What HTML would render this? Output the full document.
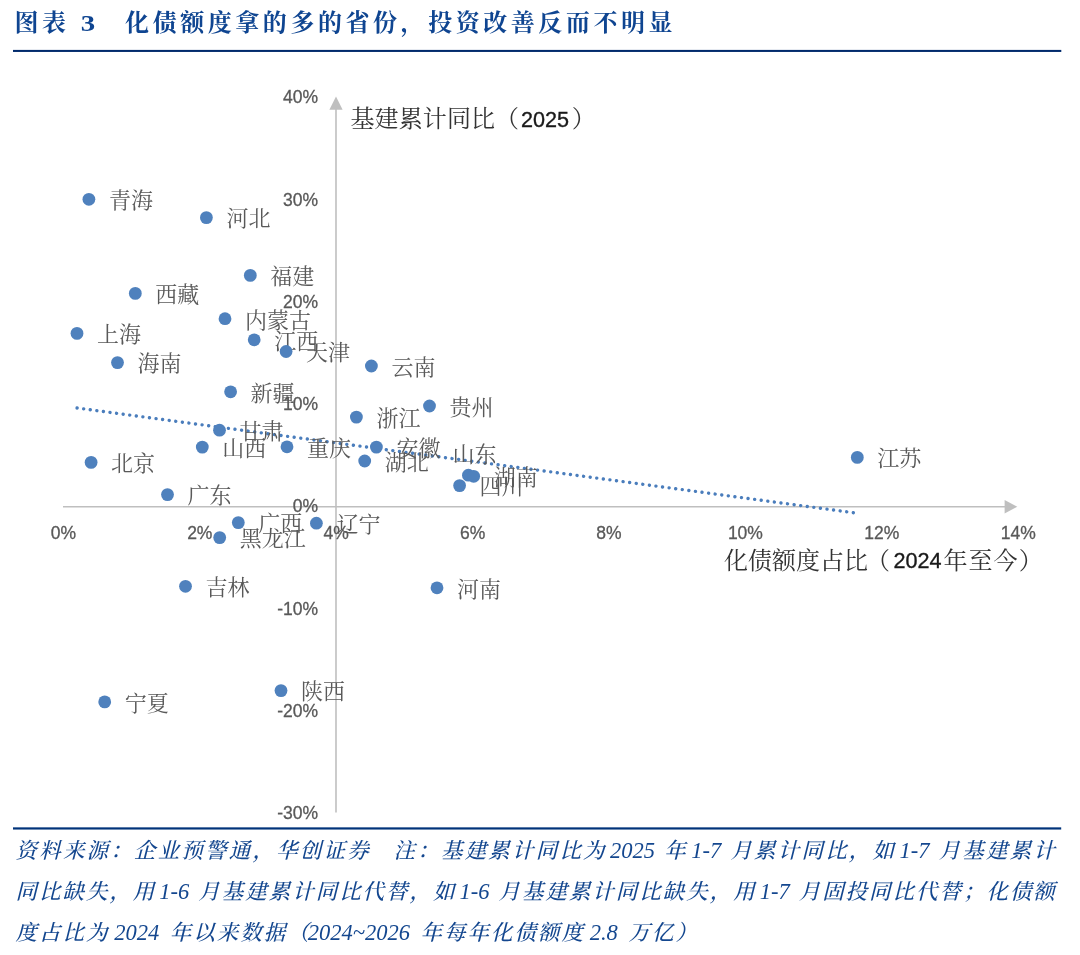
<!DOCTYPE html>
<html lang="zh-CN">
<head>
<meta charset="utf-8">
<title>图表 3</title>
<style>
html,body{margin:0;padding:0;background:#fff;}
body{width:1080px;height:955px;position:relative;overflow:hidden;font-family:"Liberation Serif","Noto Serif CJK SC",serif;}
.title{position:absolute;left:14.5px;top:4.5px;height:36px;line-height:36px;white-space:nowrap;color:#0f4591;
  font-family:"Liberation Serif","Noto Serif CJK SC",serif;font-weight:700;font-size:24px;letter-spacing:3.55px;}
.t3{display:inline-block;width:12px;margin:0 31.5px 0 12px;letter-spacing:0;text-align:center;transform:scaleX(1.2);}
svg{position:absolute;left:0;top:0;}
.tk{font-family:"Liberation Sans",sans-serif;font-size:17.5px;fill:#595959;stroke:#595959;stroke-width:0.3px;}
.lb{font-family:"Liberation Serif","Noto Serif CJK SC",serif;font-size:22px;fill:#595959;}
.at{font-family:"Liberation Serif","Noto Serif CJK SC",serif;font-size:24px;fill:#333;}
.nm{font-family:"Liberation Sans",sans-serif;font-size:21.6px;fill:#1a1a1a;stroke:#1a1a1a;stroke-width:0.35px;}
.foot{position:absolute;left:15.5px;width:1041px;height:40px;line-height:40px;white-space:nowrap;color:#14478f;
  font-family:"Liberation Serif","Noto Serif CJK SC",serif;font-style:italic;font-weight:500;font-size:21.5px;letter-spacing:1.6px;
  text-align:justify;text-align-last:justify;text-justify:inter-character;}
.foot .en{font-size:22.5px;letter-spacing:0;word-spacing:0px;position:relative;left:-3px;font-weight:400;}
.f1{top:831px;} .f2{top:871.7px;} .f3{top:913px;text-align:left;text-align-last:left;width:auto;letter-spacing:2px;}
.f3 .en{word-spacing:2px;}
</style>
</head>
<body>
<div class="title">图表<span class="t3">3</span>化债额度拿的多的省份，投资改善反而不明显</div>
<svg width="1080" height="955" viewBox="0 0 1080 955">
<rect x="13" y="49.9" width="1048.3" height="2.05" fill="#002a6c"/>
<rect x="13" y="827.35" width="1048.2" height="2.2" fill="#00337a"/>
<line x1="63" y1="506.7" x2="1006" y2="506.7" stroke="#bfbfbf" stroke-width="1.6"/>
<polygon points="1017.3,506.7 1004.6,500 1004.6,513.4" fill="#bfbfbf"/>
<line x1="336" y1="812.6" x2="336" y2="109" stroke="#bfbfbf" stroke-width="1.6"/>
<polygon points="336,96.6 329.4,109.8 342.6,109.8" fill="#bfbfbf"/>
<text class="tk" x="318" y="103.2" text-anchor="end">40%</text>
<text class="tk" x="318" y="205.5" text-anchor="end">30%</text>
<text class="tk" x="318" y="307.8" text-anchor="end">20%</text>
<text class="tk" x="318" y="410.1" text-anchor="end">10%</text>
<text class="tk" x="318" y="512.4" text-anchor="end">0%</text>
<text class="tk" x="318" y="614.7" text-anchor="end">-10%</text>
<text class="tk" x="318" y="717.0" text-anchor="end">-20%</text>
<text class="tk" x="318" y="819.3" text-anchor="end">-30%</text>
<text class="tk" x="63.4" y="538.9" text-anchor="middle">0%</text>
<text class="tk" x="199.8" y="538.9" text-anchor="middle">2%</text>
<text class="tk" x="336.2" y="538.9" text-anchor="middle">4%</text>
<text class="tk" x="472.6" y="538.9" text-anchor="middle">6%</text>
<text class="tk" x="609.0" y="538.9" text-anchor="middle">8%</text>
<text class="tk" x="745.4" y="538.9" text-anchor="middle">10%</text>
<text class="tk" x="881.8" y="538.9" text-anchor="middle">12%</text>
<text class="tk" x="1018.2" y="538.9" text-anchor="middle">14%</text>
<line x1="77.1" y1="408" x2="853.4" y2="512.72" stroke="#4a7dbc" stroke-width="3.4" stroke-linecap="round" stroke-dasharray="0.01 6.6276"/>
<text class="lb" x="108.9" y="208.1">青海</text>
<text class="lb" x="226.4" y="226.4">河北</text>
<text class="lb" x="270.3" y="284.2">福建</text>
<text class="lb" x="155.3" y="302.2">西藏</text>
<text class="lb" x="245.0" y="327.5">内蒙古</text>
<text class="lb" x="97.0" y="342.2">上海</text>
<text class="lb" x="274.2" y="348.6">江西</text>
<text class="lb" x="306.1" y="360.3">天津</text>
<text class="lb" x="137.5" y="371.4">海南</text>
<text class="lb" x="250.6" y="400.6">新疆</text>
<text class="lb" x="239.5" y="439.0">甘肃</text>
<text class="lb" x="222.3" y="455.9">山西</text>
<text class="lb" x="307.0" y="455.6">重庆</text>
<text class="lb" x="111.1" y="471.2">北京</text>
<text class="lb" x="187.5" y="503.4">广东</text>
<text class="lb" x="258.3" y="531.4">广西</text>
<text class="lb" x="239.7" y="546.4">黑龙江</text>
<text class="lb" x="336.4" y="532.0">辽宁</text>
<text class="lb" x="391.4" y="374.8">云南</text>
<text class="lb" x="449.5" y="414.8">贵州</text>
<text class="lb" x="376.4" y="425.9">浙江</text>
<text class="lb" x="396.4" y="455.9">安徽</text>
<text class="lb" x="384.7" y="469.8">湖北</text>
<text class="lb" x="452.6" y="461.5">山东</text>
<text class="lb" x="493.7" y="485.1">湖南</text>
<text class="lb" x="479.6" y="494.4">四川</text>
<text class="lb" x="205.5" y="595.1">吉林</text>
<text class="lb" x="457.0" y="596.6">河南</text>
<text class="lb" x="301.0" y="699.4">陕西</text>
<text class="lb" x="124.7" y="710.7">宁夏</text>
<text class="lb" x="877.3" y="466.2">江苏</text>
<circle cx="88.9" cy="199.3" r="6.4" fill="#4f81bd"/>
<circle cx="206.4" cy="217.6" r="6.4" fill="#4f81bd"/>
<circle cx="250.3" cy="275.4" r="6.4" fill="#4f81bd"/>
<circle cx="135.3" cy="293.4" r="6.4" fill="#4f81bd"/>
<circle cx="225.0" cy="318.7" r="6.4" fill="#4f81bd"/>
<circle cx="77.0" cy="333.4" r="6.4" fill="#4f81bd"/>
<circle cx="254.2" cy="339.8" r="6.4" fill="#4f81bd"/>
<circle cx="286.1" cy="351.5" r="6.4" fill="#4f81bd"/>
<circle cx="117.5" cy="362.6" r="6.4" fill="#4f81bd"/>
<circle cx="230.6" cy="391.8" r="6.4" fill="#4f81bd"/>
<circle cx="219.5" cy="430.2" r="6.4" fill="#4f81bd"/>
<circle cx="202.3" cy="447.1" r="6.4" fill="#4f81bd"/>
<circle cx="287.0" cy="446.8" r="6.4" fill="#4f81bd"/>
<circle cx="91.1" cy="462.4" r="6.4" fill="#4f81bd"/>
<circle cx="167.5" cy="494.6" r="6.4" fill="#4f81bd"/>
<circle cx="238.3" cy="522.6" r="6.4" fill="#4f81bd"/>
<circle cx="219.7" cy="537.6" r="6.4" fill="#4f81bd"/>
<circle cx="316.4" cy="523.2" r="6.4" fill="#4f81bd"/>
<circle cx="371.4" cy="366.0" r="6.4" fill="#4f81bd"/>
<circle cx="429.5" cy="406.0" r="6.4" fill="#4f81bd"/>
<circle cx="356.4" cy="417.1" r="6.4" fill="#4f81bd"/>
<circle cx="376.4" cy="447.1" r="6.4" fill="#4f81bd"/>
<circle cx="364.7" cy="461.0" r="6.4" fill="#4f81bd"/>
<circle cx="468.4" cy="475.2" r="6.4" fill="#4f81bd"/>
<circle cx="473.7" cy="476.3" r="6.4" fill="#4f81bd"/>
<circle cx="459.6" cy="485.6" r="6.4" fill="#4f81bd"/>
<circle cx="185.5" cy="586.3" r="6.4" fill="#4f81bd"/>
<circle cx="437.0" cy="587.8" r="6.4" fill="#4f81bd"/>
<circle cx="281.0" cy="690.6" r="6.4" fill="#4f81bd"/>
<circle cx="104.7" cy="701.9" r="6.4" fill="#4f81bd"/>
<circle cx="857.3" cy="457.4" r="6.4" fill="#4f81bd"/>
<text class="at" y="127.3"><tspan x="350.5" letter-spacing="0.1">基建累计同比</tspan><tspan x="495">（</tspan><tspan class="nm" x="520.9" dy="-0.5">2025</tspan><tspan x="571.8" dy="0.5">）</tspan></text>
<text class="at" y="568.8"><tspan x="724" letter-spacing="0">化债额度占比</tspan><tspan x="866">（</tspan><tspan class="nm" x="893.6" dy="-0.5">2024</tspan><tspan x="943.5" dy="0.5" letter-spacing="1">年至今</tspan><tspan x="1018.7">）</tspan></text>
</svg>
<div class="foot f1">资料来源：企业预警通，华创证券&nbsp;&nbsp;&nbsp;注：基建累计同比为<span class="en"> 2025 </span>年<span class="en"> 1-7 </span>月累计同比，如<span class="en"> 1-7 </span>月基建累计</div>
<div class="foot f2">同比缺失，用<span class="en"> 1-6 </span>月基建累计同比代替，如<span class="en"> 1-6 </span>月基建累计同比缺失，用<span class="en"> 1-7 </span>月固投同比代替；化债额</div>
<div class="foot f3">度占比为<span class="en"> 2024 </span>年以来数据（<span class="en">2024~2026 </span>年每年化债额度<span class="en"> 2.8 </span>万亿）</div>
</body>
</html>
